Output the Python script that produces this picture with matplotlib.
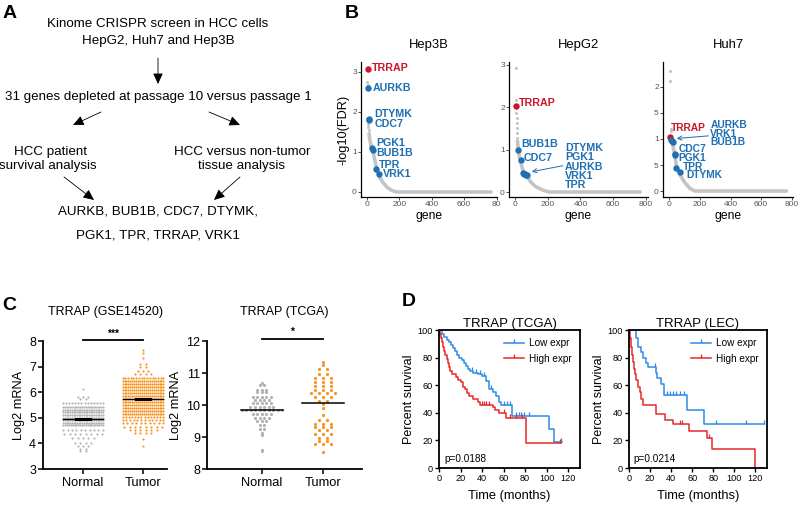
import numpy as np
import matplotlib.pyplot as plt
from matplotlib.lines import Line2D

plt.rcParams['font.family'] = ['Liberation Sans', 'DejaVu Sans']

W, H = 800, 505

# ---------------- B: kinome screen, -log10(FDR) by gene rank ----------------
hep3b_dots_x = [5, 6, 10, 11, 12, 13]
hep3b_dots_y = [2.75, 2.68, 1.70, 1.62, 1.55, 1.47]
hep3b_band_x = [14, 20, 28, 41, 61, 78, 100, 123, 145, 174, 190, 765]
hep3b_band_y = [1.45, 1.30, 1.12, 0.97, 0.59, 0.38, 0.24, 0.13, 0.06, 0.01, 0.0, 0.0]
hep3b_genes = ['TRRAP', 'AURKB', 'DTYMK', 'CDC7', 'PGK1', 'BUB1B', 'TPR', 'VRK1']
hep3b_rank = [8, 8, 14, 16, 33, 38, 55, 75]
hep3b_fdr = [3.08, 2.59, 1.82, 1.80, 1.11, 1.05, 0.57, 0.45]

hepg2_dots_x = [6, 6, 8, 9, 10, 11, 12, 13]
hepg2_dots_y = [2.93, 2.17, 1.87, 1.75, 1.63, 1.50, 1.40, 1.28]
hepg2_band_x = [15, 20, 26, 35, 45, 60, 81, 100, 122, 150, 173, 210, 765]
hepg2_band_y = [1.20, 1.00, 0.83, 0.70, 0.55, 0.42, 0.32, 0.22, 0.14, 0.08, 0.04, 0.0, 0.0]
hepg2_genes = ['TRRAP', 'BUB1B', 'CDC7', 'DTYMK', 'PGK1', 'AURKB', 'VRK1', 'TPR']
hepg2_rank = [6, 20, 35, 47, 55, 61, 66, 71]
hepg2_fdr = [2.04, 0.99, 0.76, 0.46, 0.43, 0.42, 0.40, 0.39]

huh7_dots_x = [5, 5, 8, 10]
huh7_dots_y = [2.30, 2.12, 1.19, 1.15]
huh7_band_x = [12, 16, 26, 37, 48, 70, 102, 135, 167, 765]
huh7_band_y = [1.05, 0.95, 0.85, 0.66, 0.47, 0.31, 0.16, 0.05, 0.0, 0.0]
huh7_genes = ['TRRAP', 'AURKB', 'VRK1', 'BUB1B', 'CDC7', 'PGK1', 'TPR', 'DTYMK']
huh7_rank = [3, 14, 18, 22, 37, 39, 44, 70]
huh7_fdr = [1.04, 0.99, 0.97, 0.95, 0.71, 0.69, 0.44, 0.37]

# ---------------- C: TRRAP expression (rows of the column scatter: level, count) ----------------
gse_normal_lvl = [6.14, 5.83, 5.72, 5.56, 5.43, 5.32, 5.22, 5.12, 5.01, 4.91, 4.80, 4.70,
                  4.51, 4.38, 4.22, 4.03, 3.90, 3.80, 3.72]
gse_normal_cnt = [1, 3, 2, 14, 22, 24, 24, 24, 24, 24, 24, 22, 10, 8, 5, 4, 3, 2, 2]
gse_tumor_lvl = [7.64, 7.55, 7.32, 7.12, 6.99, 6.83, 6.70, 6.56, 6.43, 6.31, 6.20, 6.08, 5.96,
                 5.84, 5.73, 5.61, 5.49, 5.37, 5.26, 5.14, 5.03, 4.91, 4.78, 4.65, 4.52, 4.39,
                 4.17, 3.90]
gse_tumor_cnt = [1, 1, 1, 2, 2, 3, 4, 16, 22, 22, 22, 22, 22, 22, 22, 22, 22, 22, 22, 22,
                 14, 12, 10, 8, 6, 4, 1, 1]
gse_means = [4.95, 5.75]

tcga_normal_lvl = [10.70, 10.62, 10.48, 10.41, 10.25, 10.15, 10.05, 9.93, 9.84, 9.73, 9.60,
                   9.50, 9.39, 9.26, 9.13, 9.05, 8.60, 8.55]
tcga_normal_cnt = [1, 2, 3, 3, 5, 4, 5, 6, 10, 5, 4, 3, 2, 2, 1, 1, 1, 1]
tcga_tumor_lvl = [11.35, 11.25, 11.11, 10.97, 10.83, 10.73, 10.60, 10.48, 10.36, 10.25, 10.12,
                  10.03, 9.92, 9.68, 9.54, 9.42, 9.30, 9.21, 9.10, 8.98, 8.87, 8.77, 8.53]
tcga_tumor_cnt = [1, 1, 2, 2, 3, 3, 3, 3, 4, 3, 2, 1, 1, 1, 2, 3, 3, 2, 3, 2, 2, 3, 1]
tcga_means = [9.84, 10.05]

# ---------------- D: Kaplan-Meier curves (step times, percent surviving, censor times) ----------------
tcga_low_t = [0, 3, 5, 7, 9, 11, 13, 15, 17, 19, 21, 23, 25, 27, 29, 32, 36, 40, 44, 46, 50, 53,
              56, 58, 68, 102, 107, 114]
tcga_low_s = [100, 97, 95, 93, 91, 89, 87, 85, 82, 80, 78, 76, 74, 72, 70, 69, 68, 67, 63, 57,
              55, 52, 48, 46, 38, 28, 19, 19]
tcga_low_cens = [31, 34, 38, 42, 48, 60, 63, 66, 72, 74, 76, 79, 84, 113]
tcga_high_t = [0, 1, 2, 3, 4, 5, 6, 7, 8, 9, 10, 12, 16, 18, 20, 22, 24, 26, 28, 32, 36, 38,
               50, 52, 56, 62, 81, 113]
tcga_high_s = [100, 97, 94, 91, 88, 85, 82, 79, 76, 73, 70, 68, 66, 64, 62, 59, 57, 54, 52, 50,
               48, 46, 44, 42, 40, 36, 18, 18]
tcga_high_cens = [40, 42, 44, 46, 60, 66, 72, 77, 112]

lec_low_t = [0, 7, 9, 11, 13, 16, 18, 26, 27, 30, 33, 55, 71, 128]
lec_low_s = [100, 94, 88, 84, 80, 76, 73, 69, 65, 61, 53, 42, 32, 32]
lec_low_cens = [25, 36, 39, 42, 45, 48, 52, 83, 111, 128]
lec_high_t = [0, 1, 2, 3, 4, 5, 6, 7, 9, 10, 11, 13, 26, 34, 42, 57, 74, 79, 120]
lec_high_s = [100, 94, 88, 82, 77, 72, 68, 64, 59, 55, 50, 46, 39, 35, 32, 27, 22, 14, 0]
lec_high_cens = [48, 50, 76]

BLUE_B = '#1f6fb2'
RED_B = '#c9162b'
GRAY_B = '#c4c4c4'
ORANGE = '#f7931e'
GRAY_C = '#b3b3b3'
BLUE_D = '#2e8ae6'
RED_D = '#e8282a'


def add_axes_px(fig, x0, y0, x1, y1):
    return fig.add_axes([x0 / W, 1 - y1 / H, (x1 - x0) / W, (y1 - y0) / H])


fig = plt.figure(figsize=(8, 5.05), dpi=100)

# overlay in pixel coordinates for panel letters and the flow chart
ov = fig.add_axes([0, 0, 1, 1], zorder=5)
ov.set_xlim(0, W)
ov.set_ylim(H, 0)
ov.axis('off')

for letter, x, y in [('A', 10, 14), ('B', 352, 14), ('C', 9, 305), ('D', 409, 302)]:
    ov.text(x, y, letter, fontsize=14, fontweight='bold', ha='center', va='center')

flow_txt = [
    (158, 24, 'Kinome CRISPR screen in HCC cells'),
    (158, 41, 'HepG2, Huh7 and Hep3B'),
    (158, 97, '31 genes depleted at passage 10 versus passage 1'),
    (50, 152, 'HCC patient'),
    (48, 166, 'survival analysis'),
    (242, 152, 'HCC versus non-tumor'),
    (241, 166, 'tissue analysis'),
    (158, 212, 'AURKB, BUB1B, CDC7, DTYMK,'),
    (158, 235, 'PGK1, TPR, TRRAP, VRK1'),
]
for x, y, s in flow_txt:
    ov.text(x, y, s, fontsize=9.6, ha='center', va='center')

flow_arrows = [((158, 58), (158, 84)), ((101, 112), (73, 125)), ((209, 112), (240, 125)),
               ((64, 177), (94, 200)), ((240, 177), (214, 200))]
for (xa, ya), (xb, yb) in flow_arrows:
    ov.annotate('', xy=(xb, yb), xytext=(xa, ya),
                arrowprops=dict(arrowstyle='-|>,head_length=0.65,head_width=0.3',
                                lw=0.6, color='black', shrinkA=0, shrinkB=0))


# ---------------- B panels ----------------
def screen_panel(ax, title, dots_x, dots_y, band_x, band_y, genes, rank, fdr, label_pos,
                 ylim, yticks, yticklabels, xticklabels, arrow=None, lab_size=7.7):
    ax.plot(band_x, band_y, color=GRAY_B, lw=2.6, solid_capstyle='round', zorder=1)
    ax.plot(dots_x, dots_y, 'o', color=GRAY_B, ms=2.2, mec='none', zorder=1)
    for g, r, f in zip(genes, rank, fdr):
        c = RED_B if g == 'TRRAP' else BLUE_B
        ax.plot(r, f, 'o', color=c, ms=4.6, mec='none', zorder=3)
        lx, ly = label_pos[g]
        ax.text(lx, ly, g, color=c, fontsize=lab_size, fontweight='bold', ha='left',
                va='center')
    if arrow is not None:
        ax.annotate('', xy=arrow[1], xytext=arrow[0],
                    arrowprops=dict(arrowstyle='->,head_length=0.3,head_width=0.15',
                                    lw=0.7, color=BLUE_B, shrinkA=0, shrinkB=0))
    ax.set_ylim(*ylim)
    ax.set_yticks(yticks)
    ax.set_yticklabels(yticklabels)
    ax.set_xticks([0, 200, 400, 600, 800])
    ax.set_xticklabels(xticklabels)
    for s in ['top', 'right']:
        ax.spines[s].set_visible(False)
    for s in ['left', 'bottom']:
        ax.spines[s].set_linewidth(0.9)
    ax.tick_params(length=2, width=0.6, color='#333333', labelcolor='#555555',
                   labelsize=6, pad=1)
    ax.set_xlabel('gene', fontsize=8.7, labelpad=1)
    ax.set_title(title, fontsize=9.4, pad=10)


ax = add_axes_px(fig, 361, 62, 497, 197)
ax.set_xlim(-35, 802)
screen_panel(ax, 'Hep3B', hep3b_dots_x, hep3b_dots_y, hep3b_band_x, hep3b_band_y,
             hep3b_genes, hep3b_rank, hep3b_fdr,
             {'TRRAP': (31, 3.1), 'AURKB': (37, 2.59), 'DTYMK': (47, 1.94), 'CDC7': (47, 1.69),
              'PGK1': (57, 1.22), 'BUB1B': (57, 0.98), 'TPR': (78, 0.67), 'VRK1': (102, 0.44)},
             (-0.125, 3.25), [0, 1, 2, 3], ['0', '1', '2', '3'],
             ['0', '200', '400', '600', '80'])
ax.set_ylabel('-log10(FDR)', fontsize=9.2, labelpad=2)

ax = add_axes_px(fig, 509, 62, 648, 197)
ax.set_xlim(-37, 813)
screen_panel(ax, 'HepG2', hepg2_dots_x, hepg2_dots_y, hepg2_band_x, hepg2_band_y,
             hepg2_genes, hepg2_rank, hepg2_fdr,
             {'TRRAP': (26, 2.11), 'BUB1B': (35, 1.13), 'CDC7': (51, 0.81), 'DTYMK': (306, 1.03),
              'PGK1': (306, 0.82), 'AURKB': (306, 0.60), 'VRK1': (306, 0.38), 'TPR': (306, 0.165)},
             (-0.118, 3.07), [0, 1, 2, 3], ['0', '1', '2', '3'],
             ['0', '200', '400', '600', '800'], arrow=((292, 0.62), (102, 0.48)))

ax = add_axes_px(fig, 663, 62, 793, 197)
ax.set_xlim(-41, 808)
screen_panel(ax, 'Huh7', huh7_dots_x, huh7_dots_y, huh7_band_x, huh7_band_y,
             huh7_genes, huh7_rank, huh7_fdr,
             {'TRRAP': (9, 1.21), 'AURKB': (268, 1.27), 'VRK1': (268, 1.105), 'BUB1B': (268, 0.94),
              'CDC7': (59, 0.80), 'PGK1': (59, 0.635), 'TPR': (87, 0.465), 'DTYMK': (113, 0.30)},
             (-0.115, 2.48), [0, 0.5, 1, 1.5, 2], ['0', '5', '1', '5', '2'],
             ['0', '200', '400', '600', '800'], arrow=((256, 1.06), (48, 1.01)), lab_size=7.4)


# ---------------- C panels ----------------
def column_scatter(ax, xc, lvls, cnts, color, halfw, dx, ms):
    for v, n in zip(lvls, cnts):
        step = min(dx, 2 * halfw / (n - 1)) if n > 1 else 0
        offs = (np.arange(n) - (n - 1) / 2) * step
        ax.plot(xc + offs, np.full(n, v), 'o', color=color, ms=ms, mec='none', zorder=2)


def expr_panel(ax, title, ylim, yticks, stars, bar_y, star_y):
    ax.set_ylim(*ylim)
    ax.set_yticks(yticks)
    ax.set_xticks([0, 1])
    ax.set_xticklabels(['Normal', 'Tumor'])
    for s in ['top', 'right']:
        ax.spines[s].set_visible(False)
    for s in ['left', 'bottom']:
        ax.spines[s].set_linewidth(1.3)
    ax.tick_params(axis='y', length=3.5, width=1.1, labelsize=9, pad=1.5)
    ax.tick_params(axis='x', length=3.5, width=1.1, labelsize=9.3, pad=2)
    ax.set_ylabel('Log2 mRNA', fontsize=9.2, labelpad=3)
    ax.set_title(title, fontsize=9, pad=19)
    ax.plot([0, 1], [bar_y, bar_y], color='black', lw=1.3, clip_on=False)
    ax.text(0.5, star_y, stars, ha='center', va='center', fontsize=7.5, fontweight='bold')


ax = add_axes_px(fig, 43, 341, 167, 469)
ax.set_xlim(-0.667, 1.4)
column_scatter(ax, 0, gse_normal_lvl, gse_normal_cnt, GRAY_C, 0.33, 0.09, 1.55)
column_scatter(ax, 1, gse_tumor_lvl, gse_tumor_cnt, ORANGE, 0.34, 0.09, 1.55)
for xc, m in zip([0, 1], gse_means):
    ax.plot([xc - 0.34, xc + 0.34], [m, m], color='black', lw=1.0, zorder=3)
    ax.plot([xc - 0.12, xc + 0.12], [m, m], color='black', lw=2.2, zorder=3)
expr_panel(ax, 'TRRAP (GSE14520)', (3, 8), [3, 4, 5, 6, 7, 8], '***', 8.04, 8.27)

ax = add_axes_px(fig, 207, 341, 362, 469)
ax.set_xlim(-0.9, 1.64)
column_scatter(ax, 0, tcga_normal_lvl, tcga_normal_cnt, GRAY_C, 0.33, 0.075, 2.3)
column_scatter(ax, 1, tcga_tumor_lvl, tcga_tumor_cnt, ORANGE, 0.33, 0.13, 2.3)
for xc, m in zip([0, 1], tcga_means):
    ax.plot([xc - 0.34, xc + 0.34], [m, m], color='black', lw=1.1, zorder=3)
expr_panel(ax, 'TRRAP (TCGA)', (8, 12), [8, 9, 10, 11, 12], '*', 12.05, 12.29)


# ---------------- D panels ----------------
def km_panel(ax, title, curves, pval):
    for t, s, cens, color, label in curves:
        ax.step(t, s, where='post', color=color, lw=1.1, label=label)
        idx = np.searchsorted(t, cens, side='right') - 1
        ax.plot(cens, np.array(s)[idx], ls='none', marker=2, ms=3, mew=0.9, color=color)
    ax.set_xlim(0, 131)
    ax.set_ylim(0, 100)
    ax.set_xticks(range(0, 121, 20))
    ax.set_yticks(range(0, 101, 20))
    for s in ax.spines.values():
        s.set_linewidth(1.3)
    ax.tick_params(length=3, width=1.0, labelsize=6.6, pad=1.5)
    ax.set_title(title, fontsize=9.5, pad=2)
    ax.set_xlabel('Time (months)', fontsize=9.3, labelpad=5)
    ax.set_ylabel('Percent survival', fontsize=9, labelpad=2)
    ax.text(0.035, 0.065, pval, transform=ax.transAxes, fontsize=7.2, ha='left', va='center')
    handles = [Line2D([], [], color=c, lw=1.1, marker=2, ms=3, mew=0.9)
               for c in [BLUE_D, RED_D]]
    ax.legend(handles, ['Low expr', 'High expr'], loc='upper right', frameon=False,
              fontsize=7.2, handlelength=2.0, handletextpad=0.5, labelspacing=0.55,
              borderaxespad=0.4)


ax = add_axes_px(fig, 439, 330, 580, 468)
km_panel(ax, 'TRRAP (TCGA)',
         [(tcga_low_t, tcga_low_s, tcga_low_cens, BLUE_D, 'Low expr'),
          (tcga_high_t, tcga_high_s, tcga_high_cens, RED_D, 'High expr')], 'p=0.0188')

ax = add_axes_px(fig, 629, 330, 767, 468)
km_panel(ax, 'TRRAP (LEC)',
         [(lec_low_t, lec_low_s, lec_low_cens, BLUE_D, 'Low expr'),
          (lec_high_t, lec_high_s, lec_high_cens, RED_D, 'High expr')], 'p=0.0214')

fig.savefig('out.png', dpi=100)
